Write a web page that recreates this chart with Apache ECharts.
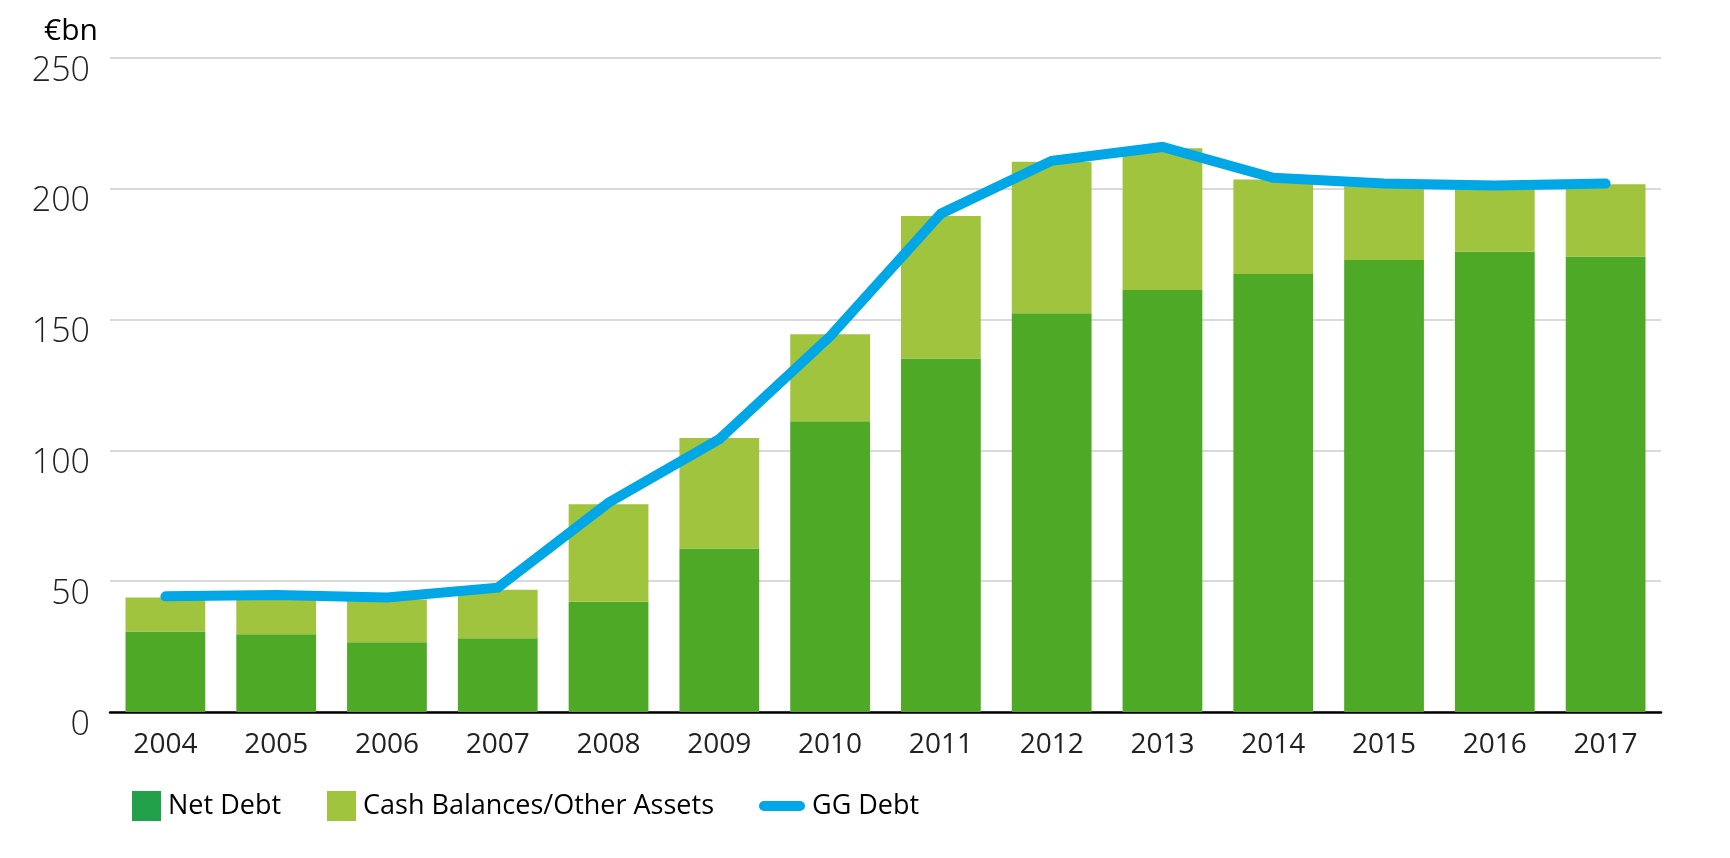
<!DOCTYPE html>
<html>
<head>
<meta charset="utf-8">
<script src="https://cdn.jsdelivr.net/npm/echarts@6/dist/echarts.min.js"></script>
<style>
  html, body { margin: 0; padding: 0; background: #fff; }
  #main { width: 1730px; height: 858px; }
</style>
</head>
<body>
<div id="main"></div>
<script>
// data (€bn)
var years = ['2004', '2005', '2006', '2007', '2008', '2009', '2010', '2011', '2012', '2013', '2014', '2015', '2016', '2017'];
var netDebt = [30.8, 29.7, 26.7, 28.2, 42.1, 62.5, 111.1, 135.1, 152.4, 161.3, 167.4, 172.8, 175.9, 174.1];
var cashTotal = [43.8, 44, 43, 46.7, 79.4, 104.7, 144.4, 189.6, 210.3, 215.5, 203.6, 201, 200, 201.7];
var ggDebt = [44.2, 44.7, 43.8, 47.5, 80, 104.3, 143.6, 190.5, 210.7, 216, 204.2, 202, 201.3, 202];

// cash balances = total bar height minus net debt
var cashBalances = cashTotal.map(function (t, i) {
  return +(t - netDebt[i]).toFixed(1);
});

var font = "'Open Sans', sans-serif";

var chart = echarts.init(document.getElementById('main'));

var option = {
  animation: false,
  title: {
    text: '€bn',
    left: 44,
    top: 16,
    padding: 0,
    textStyle: { fontFamily: font, fontSize: 30, fontWeight: 'normal', color: '#000' }
  },
  grid: {
    left: 110,
    right: 69,
    top: 58,
    bottom: 146
  },
  legend: [{
    left: 132,
    top: 791,
    padding: 0,
    itemWidth: 29,
    itemHeight: 30,
    itemGap: 46,
    icon: 'rect',
    textStyle: { fontFamily: font, fontSize: 27, color: '#000', padding: [0, 0, 0, 2] },
    data: [
      { name: 'Net Debt', itemStyle: { color: '#22A04A' } },
      { name: 'Cash Balances/Other Assets', itemStyle: { color: '#A0C43E' } }
    ]
  }, {
    left: 759,
    top: 791,
    padding: 0,
    itemWidth: 46,
    itemHeight: 10,
    textStyle: { fontFamily: font, fontSize: 27, color: '#000', lineHeight: 30, padding: [0, 0, 0, 2] },
    data: [
      { name: 'GG Debt', icon: 'path://M5,0 L41,0 A5,5 0 0 1 41,10 L5,10 A5,5 0 0 1 5,0 Z', itemStyle: { color: '#00A7E7' } }
    ]
  }],
  xAxis: {
    type: 'category',
    data: years,
    axisLine: { lineStyle: { color: '#000', width: 2.5 } },
    axisTick: { show: false },
    axisLabel: { fontFamily: font, fontSize: 28, color: '#222', margin: 19 }
  },
  yAxis: {
    type: 'value',
    min: 0,
    max: 250,
    interval: 50,
    axisLine: { show: false },
    axisTick: { show: false },
    splitLine: { lineStyle: { color: '#D9D9D9', width: 2 } },
    axisLabel: { fontFamily: font, fontSize: 34, fontWeight: 300, color: '#222', margin: 20, verticalAlign: 'top', lineHeight: 26 }
  },
  series: [
    {
      name: 'Net Debt',
      type: 'bar',
      stack: 'debt',
      barCategoryGap: '28%',
      itemStyle: { color: '#4EAA26' },
      data: netDebt
    },
    {
      name: 'Cash Balances/Other Assets',
      type: 'bar',
      stack: 'debt',
      itemStyle: { color: '#A0C43E' },
      data: cashBalances
    },
    {
      name: 'GG Debt',
      type: 'line',
      symbol: 'none',
      z: 5,
      itemStyle: { color: '#00A7E7' },
      lineStyle: { color: '#00A7E7', width: 10, cap: 'round', join: 'miter' },
      data: ggDebt
    }
  ]
};

chart.setOption(option);
</script>
</body>
</html>
